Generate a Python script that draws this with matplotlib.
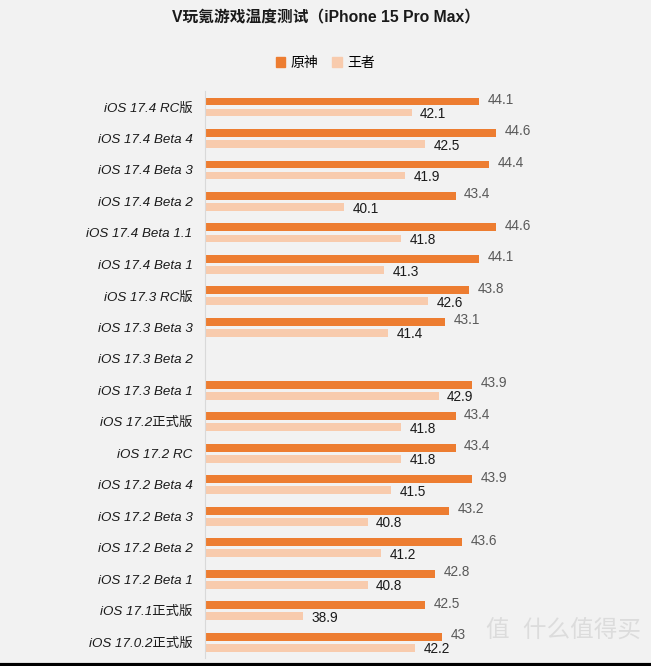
import matplotlib.pyplot as plt
from matplotlib.patches import Patch
from matplotlib.lines import Line2D
import numpy as np

plt.rcParams['font.family'] = ['Liberation Sans', 'Noto Sans CJK SC']

# data (None = no test for that build)
versions = ['iOS 17.4 RC版', 'iOS 17.4 Beta 4', 'iOS 17.4 Beta 3', 'iOS 17.4 Beta 2',
            'iOS 17.4 Beta 1.1', 'iOS 17.4 Beta 1', 'iOS 17.3 RC版', 'iOS 17.3 Beta 3',
            'iOS 17.3 Beta 2', 'iOS 17.3 Beta 1', 'iOS 17.2正式版', 'iOS 17.2 RC',
            'iOS 17.2 Beta 4', 'iOS 17.2 Beta 3', 'iOS 17.2 Beta 2', 'iOS 17.2 Beta 1',
            'iOS 17.1正式版', 'iOS 17.0.2正式版']
yuanshen = [44.1, 44.6, 44.4, 43.4, 44.6, 44.1, 43.8, 43.1, None, 43.9, 43.4, 43.4,
            43.9, 43.2, 43.6, 42.8, 42.5, 43]
wangzhe = [42.1, 42.5, 41.9, 40.1, 41.8, 41.3, 42.6, 41.4, None, 42.9, 41.8, 41.8,
           41.5, 40.8, 41.2, 40.8, 38.9, 42.2]
series_names = ['原神', '王者']

bg = '#f2f2f2'
c1 = '#ed7d31'
c2 = '#f8cbad'
base = 36

fig = plt.figure(figsize=(6.51, 6.66), dpi=100, facecolor=bg)
ax = fig.add_axes([0.315, 0.012, 0.52, 0.851], facecolor=bg)

y = np.arange(len(versions))
h = 0.25
off = 0.175

for i, (a, b) in enumerate(zip(yuanshen, wangzhe)):
    if a is not None:
        ax.barh(y[i] - off, a - base, left=base, height=h, color=c1)
        ax.text(a + 0.25, y[i] - off - 0.05, f'{a:g}', va='center', ha='left',
                fontsize=9.8, color='#595959')
    if b is not None:
        ax.barh(y[i] + off, b - base, left=base, height=h, color=c2)
        ax.text(b + 0.25, y[i] + off + 0.05, f'{b:g}', va='center', ha='left',
                fontsize=9.8, color='#1a1a1a')

ax.set_xlim(base, 46)
ax.set_ylim(len(versions) - 0.5, -0.5)
ax.set_yticks(y)
ax.set_yticklabels(versions, fontsize=9.6, style='italic', color='#1a1a1a')
ax.tick_params(axis='y', length=0, pad=9)
ax.set_xticks([])
for s in ['top', 'right', 'bottom']:
    ax.spines[s].set_visible(False)
ax.spines['left'].set_color('#d9d9d9')

fig.text(0.5, 1 - 18 / 666, 'V玩氪游戏温度测试（iPhone 15 Pro Max）', ha='center', va='center',
         fontsize=11.3, fontweight='bold', color='#1a1a1a')

handles = [Patch(color=c1, label=series_names[0]), Patch(color=c2, label=series_names[1])]
fig.legend(handles=handles, loc='center', bbox_to_anchor=(0.5, 1 - 63 / 666), ncol=2,
           frameon=False, fontsize=10, handlelength=0.7, handleheight=0.7,
           handletextpad=0.4, columnspacing=1.0)

# watermark and screenshot border
fig.text(0.985, 1 - 632 / 666, '值  什么值得买', ha='right', va='center', fontsize=17,
         color='#dcdcdc')
fig.add_artist(Line2D([0, 1], [0.002, 0.002], color='black', lw=3, transform=fig.transFigure))

fig.savefig('out.png', dpi=100, facecolor=bg)
